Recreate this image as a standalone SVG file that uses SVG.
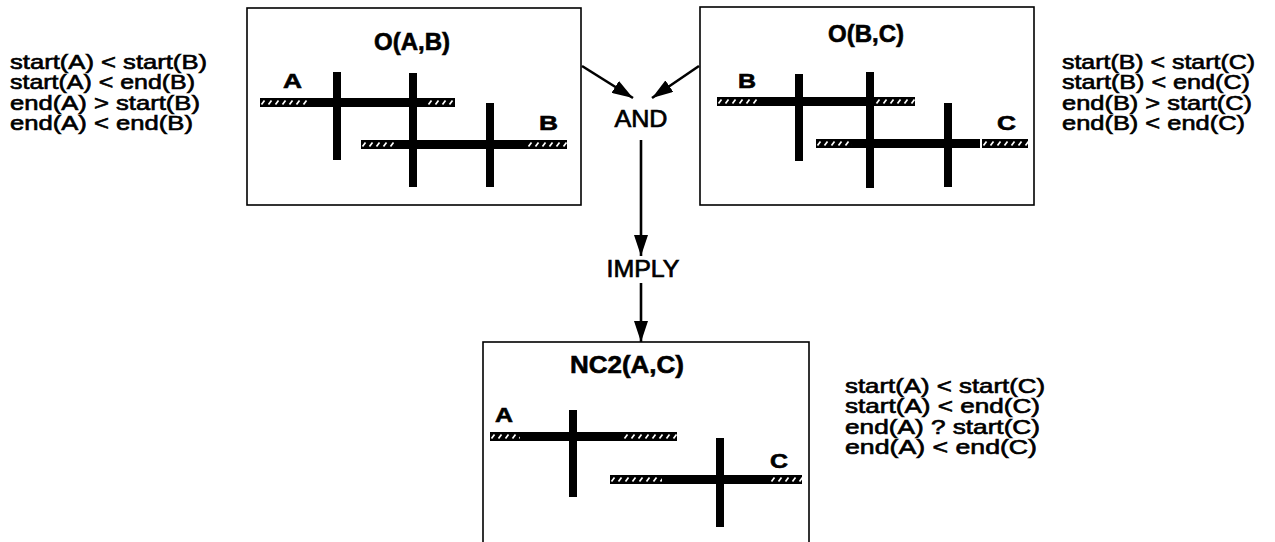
<svg xmlns="http://www.w3.org/2000/svg" width="1275" height="542" viewBox="0 0 1275 542">
<style>
  .box{fill:none;stroke:#000;stroke-width:1.6}
  .title{font-family:"Liberation Sans",Arial,sans-serif;font-weight:bold;font-size:24px;fill:#000;stroke:#000;stroke-width:0.6;text-anchor:middle}
  .lbl{font-family:"Liberation Sans",Arial,sans-serif;font-weight:bold;font-size:21px;fill:#000;stroke:#000;stroke-width:0.6}
  .op{font-family:"Liberation Sans",Arial,sans-serif;font-size:24px;fill:#000;stroke:#000;stroke-width:0.7;text-anchor:middle}
  .side{font-family:"Liberation Sans",Arial,sans-serif;font-size:21px;fill:#000;stroke:#000;stroke-width:0.65}
  .solid{fill:#000}
  .hatch{fill:url(#hatch)}
  .conn{stroke:#000;stroke-width:2.6;fill:none}
</style>
<defs>
  <pattern id="hatch" patternUnits="userSpaceOnUse" width="7" height="9">
    <rect width="7" height="9" fill="#000"/>
    <line x1="1.5" y1="6.6" x2="4.5" y2="2.4" stroke="#fff" stroke-width="1.7"/>
  </pattern>
  <marker id="arr" markerUnits="userSpaceOnUse" markerWidth="21" markerHeight="14" refX="21" refY="7" orient="auto">
    <path d="M0,0 L21,7 L0,14 Z" fill="#000"/>
  </marker>
</defs>

<g id="conditions-AB">
  <text class="side" x="10" y="69" textLength="197" lengthAdjust="spacingAndGlyphs">start(A) &lt; start(B)</text>
  <text class="side" x="10" y="89" textLength="185" lengthAdjust="spacingAndGlyphs">start(A) &lt; end(B)</text>
  <text class="side" x="10" y="110" textLength="190" lengthAdjust="spacingAndGlyphs">end(A) &gt; start(B)</text>
  <text class="side" x="10" y="130" textLength="183" lengthAdjust="spacingAndGlyphs">end(A) &lt; end(B)</text>
</g>

<g id="node-OAB">
  <rect class="box" x="247" y="8" width="334" height="197"/>
  <text class="title" x="412" y="50">O(A,B)</text>
  <text class="lbl" x="283" y="88" textLength="19" lengthAdjust="spacingAndGlyphs">A</text>
  <text class="lbl" x="539" y="130" textLength="19" lengthAdjust="spacingAndGlyphs">B</text>
  <rect class="hatch" x="0" y="0" width="49" height="9" transform="translate(260,98)"/>
  <rect class="solid" x="309" y="98" width="118" height="9"/>
  <rect class="hatch" x="0" y="0" width="28" height="9" transform="translate(427,98)"/>
  <rect class="hatch" x="0" y="0" width="33" height="9" transform="translate(361,140)"/>
  <rect class="solid" x="394" y="140" width="133" height="9"/>
  <rect class="hatch" x="0" y="0" width="40" height="9" transform="translate(527,140)"/>
  <rect class="solid" x="333" y="72" width="8" height="88"/>
  <rect class="solid" x="409" y="73" width="8" height="114"/>
  <rect class="solid" x="486" y="103" width="8" height="84"/>
</g>

<g id="node-OBC">
  <rect class="box" x="700" y="7" width="334" height="198"/>
  <text class="title" x="866" y="42">O(B,C)</text>
  <text class="lbl" x="738" y="88" textLength="18" lengthAdjust="spacingAndGlyphs">B</text>
  <text class="lbl" x="997" y="130" textLength="19" lengthAdjust="spacingAndGlyphs">C</text>
  <rect class="hatch" x="0" y="0" width="43" height="9" transform="translate(717,97)"/>
  <rect class="solid" x="760" y="97" width="115" height="9"/>
  <rect class="hatch" x="0" y="0" width="40" height="9" transform="translate(875,97)"/>
  <rect class="hatch" x="0" y="0" width="36" height="9" transform="translate(816,139)"/>
  <rect class="solid" x="852" y="139" width="128" height="9"/>
  <rect class="hatch" x="0" y="0" width="46" height="9" transform="translate(982,139)"/>
  <rect class="solid" x="795" y="74" width="8" height="87"/>
  <rect class="solid" x="866" y="72" width="8" height="116"/>
  <rect class="solid" x="944" y="103" width="8" height="84"/>
</g>

<g id="node-AND">
  <text class="op" x="641" y="127" textLength="53" lengthAdjust="spacingAndGlyphs">AND</text>
</g>

<g id="node-IMPLY">
  <text class="op" x="643" y="277" textLength="73" lengthAdjust="spacingAndGlyphs">IMPLY</text>
</g>

<g id="node-NC2AC">
  <rect class="box" x="483" y="342" width="326" height="210"/>
  <text class="title" x="627" y="373" textLength="114" lengthAdjust="spacingAndGlyphs">NC2(A,C)</text>
  <text class="lbl" x="495" y="422" textLength="18" lengthAdjust="spacingAndGlyphs">A</text>
  <text class="lbl" x="770" y="468" textLength="18" lengthAdjust="spacingAndGlyphs">C</text>
  <rect class="hatch" x="0" y="0" width="30" height="9" transform="translate(490,432)"/>
  <rect class="solid" x="520" y="432" width="103" height="9"/>
  <rect class="hatch" x="0" y="0" width="54" height="9" transform="translate(623,432)"/>
  <rect class="hatch" x="0" y="0" width="52" height="9" transform="translate(610,475)"/>
  <rect class="solid" x="662" y="475" width="108" height="9"/>
  <rect class="hatch" x="0" y="0" width="32" height="9" transform="translate(770,475)"/>
  <rect class="solid" x="569" y="410" width="8" height="87"/>
  <rect class="solid" x="716" y="438" width="8" height="89"/>
</g>

<g id="conditions-BC">
  <text class="side" x="1062" y="69" textLength="193" lengthAdjust="spacingAndGlyphs">start(B) &lt; start(C)</text>
  <text class="side" x="1062" y="89" textLength="188" lengthAdjust="spacingAndGlyphs">start(B) &lt; end(C)</text>
  <text class="side" x="1062" y="110" textLength="190" lengthAdjust="spacingAndGlyphs">end(B) &gt; start(C)</text>
  <text class="side" x="1062" y="130" textLength="183" lengthAdjust="spacingAndGlyphs">end(B) &lt; end(C)</text>
</g>

<g id="conditions-AC">
  <text class="side" x="845" y="393" textLength="200" lengthAdjust="spacingAndGlyphs">start(A) &lt; start(C)</text>
  <text class="side" x="845" y="413" textLength="195" lengthAdjust="spacingAndGlyphs">start(A) &lt; end(C)</text>
  <text class="side" x="845" y="434" textLength="195" lengthAdjust="spacingAndGlyphs">end(A) ? start(C)</text>
  <text class="side" x="845" y="454" textLength="192" lengthAdjust="spacingAndGlyphs">end(A) &lt; end(C)</text>
</g>

<g id="connectors">
  <line class="conn" x1="582" y1="66" x2="633" y2="98" marker-end="url(#arr)"/>
  <line class="conn" x1="699" y1="66" x2="652" y2="98" marker-end="url(#arr)"/>
  <line class="conn" x1="641" y1="140" x2="641" y2="256" marker-end="url(#arr)"/>
  <line class="conn" x1="641" y1="283" x2="641" y2="342" marker-end="url(#arr)"/>
</g>
</svg>
